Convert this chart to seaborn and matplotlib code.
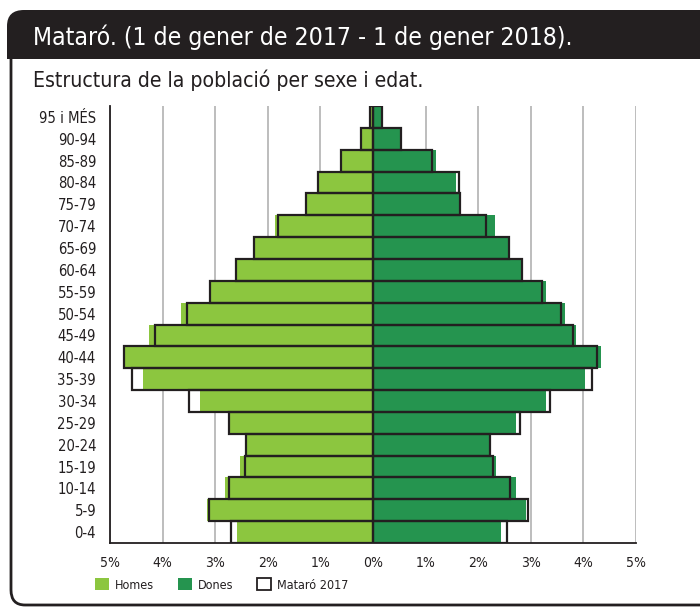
import matplotlib
matplotlib.use("Agg")
import matplotlib.pyplot as plt
import seaborn as sns
import pandas as pd
from matplotlib.patches import Patch, PathPatch
from matplotlib.path import Path
from matplotlib.transforms import IdentityTransform

# population structure, % of total (Mataró)
ages = ["95 i MÉS", "90-94", "85-89", "80-84", "75-79", "70-74", "65-69",
        "60-64", "55-59", "50-54", "45-49", "40-44", "35-39", "30-34",
        "25-29", "20-24", "15-19", "10-14", "5-9", "0-4"]
homes_2018 = [0.05, 0.22, 0.60, 1.05, 1.27, 1.87, 2.27, 2.61, 3.10, 3.65,
              4.25, 4.74, 4.38, 3.29, 2.73, 2.41, 2.52, 2.82, 3.16, 2.59]
dones_2018 = [0.17, 0.54, 1.19, 1.58, 1.66, 2.31, 2.58, 2.85, 3.28, 3.65,
              3.86, 4.33, 4.03, 3.29, 2.72, 2.20, 2.33, 2.71, 2.90, 2.44]
homes_2017 = [0.05, 0.22, 0.60, 1.05, 1.27, 1.81, 2.27, 2.61, 3.10, 3.54,
              4.15, 4.74, 4.59, 3.49, 2.73, 2.41, 2.44, 2.73, 3.12, 2.70]
dones_2017 = [0.17, 0.54, 1.12, 1.63, 1.66, 2.15, 2.58, 2.83, 3.22, 3.58,
              3.80, 4.25, 4.17, 3.37, 2.80, 2.23, 2.28, 2.61, 2.94, 2.54]
ticks = [-5, -4, -3, -2, -1, 0, 1, 2, 3, 4, 5]

dark = "#231f20"
light_green = "#8cc63f"
dark_green = "#25944f"

sns.set_style("white")
plt.rcParams["font.family"] = ["DejaVu Sans"]
plt.rcParams["font.stretch"] = "condensed"

df = pd.DataFrame({"edat": ages,
                   "h18": [-v for v in homes_2018], "d18": dones_2018,
                   "h17": [-v for v in homes_2017], "d17": dones_2017})

fig = plt.figure(figsize=(7.0, 6.07), dpi=100)
ax = fig.add_axes([110 / 700, 1 - 543 / 607, 526 / 700, 437 / 607])

for t in ticks:
    if t != 0:
        ax.axvline(t, color="#b8b8b8", lw=1.3, zorder=0)

sns.barplot(data=df, x="h18", y="edat", orient="y", color=light_green,
            width=1, linewidth=0, saturation=1, ax=ax, zorder=2)
sns.barplot(data=df, x="d18", y="edat", orient="y", color=dark_green,
            width=1, linewidth=0, saturation=1, ax=ax, zorder=2)
sns.barplot(data=df, x="h17", y="edat", orient="y", color=dark, fill=False,
            width=1, linewidth=1.6, ax=ax, zorder=3)
sns.barplot(data=df, x="d17", y="edat", orient="y", color=dark, fill=False,
            width=1, linewidth=1.6, ax=ax, zorder=3)

ax.set_xlim(-5, 5)
ax.set_ylim(len(ages) - 0.5, -0.5)
ax.set_xticks(ticks)
ax.set_xticklabels([f"{abs(t)}%" for t in ticks], fontsize=10, color=dark)
ax.tick_params(axis="x", direction="out", length=3.6, width=1.3, color=dark, pad=6)
ax.tick_params(axis="y", length=0, pad=10, labelsize=10.6, labelcolor=dark)
ax.set_xlabel("")
ax.set_ylabel("")
for s in ["top", "right"]:
    ax.spines[s].set_visible(False)
for s in ["left", "bottom"]:
    ax.spines[s].set_color(dark)
    ax.spines[s].set_linewidth(1.3)

# frame and header (pixel coordinates)
H = 607
frame = Path([(11, H - 59), (11, H - 590), (11, H - 605), (25, H - 605), (710, H - 605)],
             [Path.MOVETO, Path.LINETO, Path.CURVE3, Path.CURVE3, Path.LINETO])
fig.patches.append(PathPatch(frame, fill=False, edgecolor=dark, lw=2,
                             transform=IdentityTransform(), figure=fig))
header = Path([(7, H - 59), (7, H - 26), (7, H - 10), (24, H - 10), (710, H - 10),
               (710, H - 59), (7, H - 59)],
              [Path.MOVETO, Path.LINETO, Path.CURVE3, Path.CURVE3, Path.LINETO,
               Path.LINETO, Path.CLOSEPOLY])
fig.patches.append(PathPatch(header, facecolor=dark, edgecolor="none",
                             transform=IdentityTransform(), figure=fig))

fig.text(33 / 700, 1 - 37 / 607, "Mataró. (1 de gener de 2017 - 1 de gener 2018).",
         color="white", fontsize=17.7, va="center", ha="left")
fig.text(33 / 700, 1 - 80 / 607, "Estructura de la població per sexe i edat.",
         color=dark, fontsize=15.2, va="center", ha="left")

handles = [Patch(facecolor=light_green, edgecolor="none"),
           Patch(facecolor=dark_green, edgecolor="none"),
           Patch(facecolor="white", edgecolor=dark, lw=1.3)]
fig.legend(handles, ["Homes", "Dones", "Mataró 2017"], loc="center left",
           bbox_to_anchor=(95 / 700, 1 - 585 / 607), ncol=3, frameon=False,
           handlelength=1.1, handleheight=1.1, handletextpad=0.5,
           columnspacing=1.9, fontsize=9, labelcolor=dark,
           borderpad=0, borderaxespad=0)

fig.savefig("out.png", dpi=100)
